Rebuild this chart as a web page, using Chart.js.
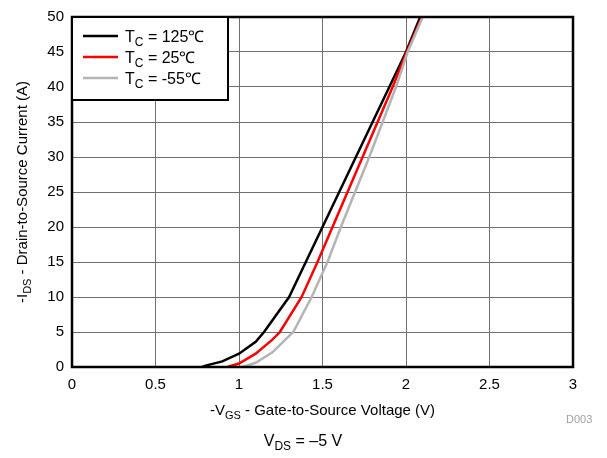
<!DOCTYPE html>
<html>
<head>
<meta charset="utf-8">
<script src="https://cdn.jsdelivr.net/npm/chart.js@4/dist/chart.umd.min.js"></script>
<style>
  html, body { margin: 0; padding: 0; background: #fff; }
  #c { display: block; }
</style>
</head>
<body>
<canvas id="c" width="607" height="458"></canvas>
<script>
// transfer characteristics
const seriesNames = ['125℃', '25℃', '-55℃'];
const seriesColors = ['#000000', '#FF0000', '#B4B4B4'];

const vgs125 = [0.78, 0.80, 0.90, 1.00, 1.10, 1.15, 1.30, 1.40, 1.50, 1.70, 1.90, 2.00, 2.085];
const ids125 = [0,    0.2,  0.8,  1.9,  3.6,  5,    10,   15,   20,   30,   40,   45,   50];

const vgs25 = [0.93, 1.00, 1.10, 1.20, 1.245, 1.375, 1.47, 1.56, 1.74, 1.92, 2.005, 2.095];
const ids25 = [0,    0.5,  1.9,  3.9,  5,     10,    15,   20,   30,   40,   45,    50];

const vgsM55 = [1.02, 1.10, 1.20, 1.325, 1.435, 1.53, 1.61, 1.78, 1.94, 2.01, 2.10];
const idsM55 = [0,    0.6,  2.1,  5,     10,    15,   20,   30,   40,   45,   50];

const xTicks = [0, 0.5, 1, 1.5, 2, 2.5, 3];
const yTicks = [0, 5, 10, 15, 20, 25, 30, 35, 40, 45, 50];

const toPts = (xs, ys) => xs.map((x, i) => ({ x, y: ys[i] }));
const FONT = 'Arial, "Liberation Sans", sans-serif';

// draws text with subscript pieces: parts = [[text, isSub], ...]
function richText(ctx, parts, x, y, align, size) {
  const subSize = Math.round(size * 0.75);
  let w = 0;
  parts.forEach(([t, sub]) => {
    ctx.font = `${sub ? subSize : size}px ${FONT}`;
    w += ctx.measureText(t).width;
  });
  let cx = align === 'center' ? x - w / 2 : x;
  ctx.textBaseline = 'alphabetic';
  ctx.textAlign = 'left';
  parts.forEach(([t, sub]) => {
    ctx.font = `${sub ? subSize : size}px ${FONT}`;
    ctx.fillText(t, cx, sub ? y + 4 : y);
    cx += ctx.measureText(t).width;
  });
}

const annotations = {
  id: 'annotations',
  afterDraw(chart) {
    const ctx = chart.ctx;
    const a = chart.chartArea;
    ctx.save();

    // plot frame
    ctx.strokeStyle = '#000';
    ctx.lineWidth = 2.5;
    ctx.strokeRect(a.left, a.top, a.right - a.left, a.bottom - a.top);

    ctx.fillStyle = '#000';
    // y title
    ctx.save();
    ctx.translate(27, (a.top + a.bottom) / 2);
    ctx.rotate(-Math.PI / 2);
    richText(ctx, [['-I', false], ['DS', true], [' - Drain-to-Source Current (A)', false]], 0, 0, 'center', 15);
    ctx.restore();

    // x title
    richText(ctx, [['-V', false], ['GS', true], [' - Gate-to-Source Voltage (V)', false]], (a.left + a.right) / 2, 415, 'center', 15);

    // condition note
    richText(ctx, [['V', false], ['DS', true], [' = \u20135 V', false]], 303, 446, 'center', 16);

    // figure id
    ctx.fillStyle = '#A0A0A0';
    ctx.font = `11px ${FONT}`;
    ctx.textAlign = 'left';
    ctx.fillText('D003', 566, 423);

    // legend box
    const bx = a.left, by = a.top, bw = 156, bh = 83;
    ctx.fillStyle = '#fff';
    ctx.fillRect(bx, by, bw, bh);
    ctx.strokeStyle = '#000';
    ctx.lineWidth = 2;
    ctx.strokeRect(bx, by, bw, bh);
    seriesNames.forEach((name, i) => {
      const yy = by + 19 + i * 21;
      ctx.strokeStyle = seriesColors[i];
      ctx.lineWidth = 2.5;
      ctx.beginPath();
      ctx.moveTo(bx + 11, yy);
      ctx.lineTo(bx + 46, yy);
      ctx.stroke();
      ctx.fillStyle = '#000';
      richText(ctx, [['T', false], ['C', true], [' = ' + name, false]], bx + 53, yy + 6, 'left', 16);
    });
    ctx.restore();
  }
};

new Chart(document.getElementById('c'), {
  type: 'scatter',
  data: {
    datasets: [
      { label: seriesNames[0], data: toPts(vgs125, ids125) },
      { label: seriesNames[1], data: toPts(vgs25, ids25) },
      { label: seriesNames[2], data: toPts(vgsM55, idsM55) },
    ].map((d, i) => Object.assign(d, {
      showLine: true, borderColor: seriesColors[i], borderWidth: 2.5,
      pointRadius: 0, tension: 0, order: 2 - i
    }))
  },
  plugins: [annotations],
  options: {
    responsive: false, animation: false,
    layout: { padding: { top: 14, right: 34, left: 0, bottom: 0 } },
    plugins: { legend: { display: false }, tooltip: { enabled: false } },
    scales: {
      x: {
        type: 'linear', min: 0, max: 3,
        afterBuildTicks: s => { s.ticks = xTicks.map(v => ({ value: v })); },
        afterFit: s => { s.height = 91; },
        grid: { color: '#707070', lineWidth: 1, drawTicks: false },
        border: { color: '#000', width: 2 },
        ticks: { color: '#000', font: { family: FONT, size: 15 }, padding: 9, maxRotation: 0,
                 callback: v => String(v) }
      },
      y: {
        type: 'linear', min: 0, max: 50,
        afterBuildTicks: s => { s.ticks = yTicks.map(v => ({ value: v })); },
        afterFit: s => { s.width = 72; },
        grid: { color: '#707070', lineWidth: 1, drawTicks: false },
        border: { color: '#000', width: 2 },
        ticks: { color: '#000', font: { family: FONT, size: 15 }, padding: 8,
                 callback: v => String(v) }
      }
    }
  },
});
</script>
</body>
</html>
